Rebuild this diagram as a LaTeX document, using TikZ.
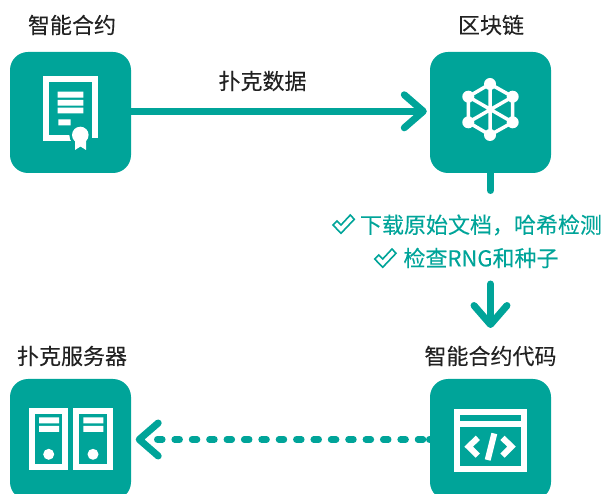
\documentclass[tikz,border=0pt]{standalone}
\usepackage{fontspec}
\setmainfont[FakeBold=0.12]{Noto Sans CJK SC}
\usetikzlibrary{arrows.meta}
\definecolor{brand}{HTML}{00A499}
\definecolor{ink}{HTML}{222222}
\tikzset{
  box/.style={fill=brand,minimum size=121pt,inner sep=0pt,rounded corners=18pt},
  lbl/.style={text=ink,font=\fontsize{22}{24}\selectfont,inner sep=0pt,anchor=center},
  note/.style={text=brand,font=\fontsize{22}{24}\selectfont,inner sep=0pt,anchor=center},
  flow/.style={draw=brand,line width=7pt,line cap=round},
  barb/.style={-{Straight Barb[length=19pt,width=33pt,line width=7pt,round]}},
  ico/.style={draw=white,line width=6pt},
  chk/.style={draw=brand,line width=1.6pt,line join=miter}
}
\newcommand{\chkmark}[2]{\draw[chk,shift={(#1,#2)}] (0,0) -- (4,-4) -- (8,0) -- (17.3,-10) -- (21.3,-5.7) -- (8,8.3) -- cycle;}
\begin{document}
\begin{tikzpicture}[x=1pt,y=-1pt]
\path[use as bounding box,clip] (0,0) rectangle (603,494);
\node[box] (contract) at (70.5,112.5) {};
\node[box] (chain) at (490.5,112.5) {};
\node[box] (server) at (70.5,439.5) {};
\node[box] (code) at (490.5,439.5) {};
\node[lbl] (tcontract) at (72,25) {智能合约};
\node[lbl] (tchain) at (491,25) {区块链};
\node[lbl] (tdata) at (262.5,81) {扑克数据};
\node[lbl] (tserver) at (72,356) {扑克服务器};
\node[lbl] (tcode) at (490.5,356) {智能合约代码};
\node[note] (n1) at (481,225) {下载原始文档，哈希检测};
\node[note] (n2) at (481,258) {检查RNG和种子};
\chkmark{333}{225}
\chkmark{374.7}{259}
% connectors
\draw[flow,line cap=butt,barb,shorten >=3pt] ([yshift=1.2pt]contract.east) -- ([yshift=1.2pt]chain.west);
\coordinate (gapa) at (490.5,190.5);
\coordinate (gapb) at (490.5,284);
\coordinate (tipb) at (490.5,328);
\draw[flow] (chain.south) -- (gapa);
\draw[flow,barb] (gapb) -- (tipb);
\draw[draw=brand,line width=6.5pt,line cap=round,barb,shorten >=4.5pt,
  dash pattern=on 0.5pt off 6.3pt on 5pt off 12.38pt on 5pt off 12.38pt on 5pt off 12.38pt on 5pt off 12.38pt on 5pt off 12.38pt on 5pt off 12.38pt on 5pt off 12.38pt on 5pt off 12.38pt on 5pt off 12.38pt on 5pt off 12.38pt on 5pt off 12.38pt on 5pt off 12.38pt on 5pt off 12.38pt on 5pt off 12.38pt on 5pt off 12.38pt on 5pt off 60pt]
  (code.west) -- (server.east);
% contract icon
\draw[ico] (72,137.8) -- (46,137.8) -- (46,79) -- (95.3,79) -- (95.3,138);
\fill[white] (57.7,91.7) rectangle (83.3,97.7) (57.7,100) rectangle (83.3,105.7) (57.7,107.7) rectangle (83.3,113.3) (58.3,119.3) rectangle (70.7,125.3);
\fill[brand] (80.3,135) circle[radius=11pt];
\fill[white] (75,136) -- (75,150) -- (80.5,146.5) -- (86,150) -- (86,136) -- cycle;
\fill[white] (80.3,135) circle[radius=8.3pt];
% chain icon
\begin{scope}[draw=white,line width=3.5pt,line join=round]
\draw (490,84) -- (512.7,96.7) -- (512.7,122.3) -- (490,135) -- (468.3,122.3) -- (468.3,96.7) -- cycle;
\draw (490,84) -- (490,135) (468.3,96.7) -- (512.7,122.3) (468.3,122.3) -- (512.7,96.7);
\end{scope}
\fill[white] (490,84) circle[radius=6pt] (512.7,96.7) circle[radius=6pt] (512.7,122.3) circle[radius=6pt] (490,135) circle[radius=6pt] (468.3,122.3) circle[radius=6pt] (468.3,96.7) circle[radius=6pt];
% server icon
\draw[ico] (32,411.3) rectangle (65.3,467);
\draw[ico] (76.3,411.3) rectangle (109.7,467);
\fill[white] (39,417.3) rectangle (59,423.3) (39,426) rectangle (59,432) (83.3,417.3) rectangle (103.3,423.3) (83.3,426) rectangle (103.3,432);
\fill[white] (48.7,454.3) circle[radius=5.5pt] (93,454.3) circle[radius=5.5pt];
% code icon
\draw[ico] (457,412) rectangle (523.7,468.7);
\fill[white] (454,421) rectangle (526.7,426.7);
\draw[draw=white,line width=6pt] (477.8,437.8) -- (468.7,446.7) -- (477.8,455.6);
\draw[draw=white,line width=6pt] (502.5,437.8) -- (511.5,446.7) -- (502.5,455.6);
\draw[draw=white,line width=6pt] (494.3,433.5) -- (487.7,460);
\end{tikzpicture}
\end{document}
